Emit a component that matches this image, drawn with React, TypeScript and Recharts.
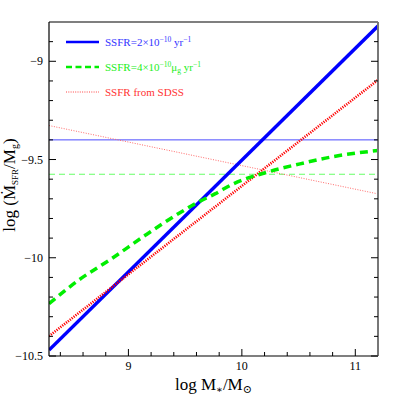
import { ComposedChart, Line, XAxis, YAxis, ReferenceLine } from 'recharts';

// log M*/Msun positions and log(SFR/Mg) values
const blueThick = [
  { x: 8.3, y: -10.47 },
  { x: 11.2, y: -8.82 },
];
const redThick = [
  { x: 8.3, y: -10.399 },
  { x: 11.2, y: -9.095 },
];
const redThin = [
  { x: 8.3, y: -9.327 },
  { x: 11.2, y: -9.675 },
];
const greenCurve = [
  { x: 8.3, y: -10.234 },
  { x: 8.556, y: -10.116 },
  { x: 8.851, y: -10.005 },
  { x: 9.145, y: -9.887 },
  { x: 9.439, y: -9.776 },
  { x: 9.615, y: -9.717 },
  { x: 9.762, y: -9.675 },
  { x: 9.924, y: -9.624 },
  { x: 10.219, y: -9.565 },
  { x: 10.513, y: -9.522 },
  { x: 10.807, y: -9.485 },
  { x: 11.2, y: -9.454 },
];
const blueLevel = -9.4;
const greenLevel = -9.575;

const xTicks = [8.4, 8.6, 8.8, 9, 9.2, 9.4, 9.6, 9.8, 10, 10.2, 10.4, 10.6, 10.8, 11];
const xMajor = [9, 10, 11];
const yTicks = [-10.5, -10.4, -10.3, -10.2, -10.1, -10, -9.9, -9.8, -9.7, -9.6, -9.5, -9.4, -9.3, -9.2, -9.1, -9, -8.9];
const yMajor = [-10.5, -10, -9.5, -9];

const FONT = '"Liberation Serif", "DejaVu Serif", serif';
const MAJOR = 7;
const MINOR = 4;

const isMajor = (list: number[], v: number) => list.some((m) => Math.abs(m - v) < 1e-6);
const fmtY = (v: number) => (v < 0 ? '\u2212' + String(-v) : String(v));

function BottomTick(props: any) {
  const { x, y, payload } = props;
  const major = isMajor(xMajor, payload.value);
  return (
    <g>
      <line x1={x} x2={x} y1={y} y2={y - (major ? MAJOR : MINOR)} stroke="#000" strokeWidth={1} />
      {major && (
        <text x={x} y={y + 14} textAnchor="middle" fontSize={12} fontFamily={FONT} fill="#000">
          {String(payload.value)}
        </text>
      )}
    </g>
  );
}

function TopTick(props: any) {
  const { x, y, payload } = props;
  const major = isMajor(xMajor, payload.value);
  return <line x1={x} x2={x} y1={y} y2={y + (major ? MAJOR : MINOR)} stroke="#000" strokeWidth={1} />;
}

function LeftTick(props: any) {
  const { x, y, payload } = props;
  const major = isMajor(yMajor, payload.value);
  return (
    <g>
      <line x1={x} x2={x + (major ? MAJOR : MINOR)} y1={y} y2={y} stroke="#000" strokeWidth={1} />
      {major && (
        <text x={x - 6} y={y + 4} textAnchor="end" fontSize={12} fontFamily={FONT} fill="#000">
          {fmtY(payload.value)}
        </text>
      )}
    </g>
  );
}

function RightTick(props: any) {
  const { x, y, payload } = props;
  const major = isMajor(yMajor, payload.value);
  return <line x1={x} x2={x - (major ? MAJOR : MINOR)} y1={y} y2={y} stroke="#000" strokeWidth={1} />;
}

const axisLine = { stroke: '#000', strokeWidth: 1.2 };

export default function App() {
  return (
    <div style={{ position: 'absolute', left: 0, top: 0, width: 399, height: 399, background: '#fff' }}>
      <ComposedChart width={399} height={399} margin={{ top: 0, right: 0, bottom: 0, left: 0 }}>
        <XAxis
          dataKey="x"
          type="number"
          domain={[8.3, 11.2]}
          allowDataOverflow
          ticks={xTicks}
          interval={0}
          height={43}
          tickSize={0}
          tickMargin={0}
          tickLine={false}
          axisLine={axisLine}
          tick={BottomTick}
        />
        <XAxis
          xAxisId="t"
          orientation="top"
          type="number"
          domain={[8.3, 11.2]}
          allowDataOverflow
          ticks={xTicks}
          interval={0}
          height={22}
          tickSize={0}
          tickMargin={0}
          tickLine={false}
          axisLine={axisLine}
          tick={TopTick}
        />
        <YAxis
          type="number"
          domain={[-10.5, -8.8]}
          allowDataOverflow
          ticks={yTicks}
          interval={0}
          width={49}
          tickSize={0}
          tickMargin={0}
          tickLine={false}
          axisLine={axisLine}
          tick={LeftTick}
        />
        <YAxis
          yAxisId="r"
          orientation="right"
          type="number"
          domain={[-10.5, -8.8]}
          allowDataOverflow
          ticks={yTicks}
          interval={0}
          width={21}
          tickSize={0}
          tickMargin={0}
          tickLine={false}
          axisLine={{ stroke: '#777', strokeWidth: 2 }}
          tick={RightTick}
        />
        <ReferenceLine y={blueLevel} stroke="#4b4bff" strokeWidth={1} />
        <ReferenceLine y={greenLevel} stroke="#66ff66" strokeWidth={1} strokeDasharray="6 4" />
        <Line
          data={redThin}
          dataKey="y"
          type="linear"
          stroke="#ff6a6a"
          strokeWidth={1}
          strokeDasharray="1 1.5"
          dot={false}
          isAnimationActive={false}
        />
        <Line
          data={blueThick}
          dataKey="y"
          type="linear"
          stroke="#0000ff"
          strokeWidth={3.5}
          dot={false}
          isAnimationActive={false}
        />
        <Line
          data={redThick}
          dataKey="y"
          type="linear"
          stroke="#ff0000"
          strokeWidth={2.6}
          strokeDasharray="1.2 1.2"
          dot={false}
          isAnimationActive={false}
        />
        <Line
          data={greenCurve}
          dataKey="y"
          type="monotone"
          stroke="#00ee00"
          strokeWidth={3.5}
          strokeDasharray="8 5"
          dot={false}
          isAnimationActive={false}
        />
      </ComposedChart>

      <svg
        width={399}
        height={399}
        style={{ position: 'absolute', left: 0, top: 0, pointerEvents: 'none' }}
        fontFamily={FONT}
      >
        {/* legend */}
        <line x1={66} x2={99} y1={42} y2={42} stroke="#0000ff" strokeWidth={2.5} />
        <text x={105} y={46} fontSize={11} fill="#3333ff">
          SSFR=2×10<tspan dy={-4} fontSize={7.5}>−10</tspan>
          <tspan dy={4}> yr</tspan>
          <tspan dy={-4} fontSize={7.5}>−1</tspan>
        </text>
        <line x1={66} x2={99} y1={67} y2={67} stroke="#00ee00" strokeWidth={2.5} strokeDasharray="6 3.5" />
        <text x={105} y={71} fontSize={11} fill="#22ee22">
          SSFR=4×10<tspan dy={-4} fontSize={7.5}>−10</tspan>
          <tspan dy={4}>μ</tspan>
          <tspan dy={2} fontSize={7.5}>g</tspan>
          <tspan dy={-2}> yr</tspan>
          <tspan dy={-4} fontSize={7.5}>−1</tspan>
        </text>
        <line x1={66} x2={99} y1={92} y2={92} stroke="#ff4444" strokeWidth={1} strokeDasharray="1 1.3" />
        <text x={105} y={96} fontSize={11} fill="#ff3333">
          SSFR from SDSS
        </text>

        {/* axis titles */}
        <text x={175} y={390} fontSize={17} fill="#000">
          log M<tspan dy={3} fontSize={10}>∗</tspan>
          <tspan dy={-3}>/M</tspan>
          <tspan dy={3} fontSize={11}>⊙</tspan>
        </text>
        <text transform="translate(15,185) rotate(-90)" textAnchor="middle" fontSize={17} fill="#000">
          log (Ṁ<tspan dy={3} fontSize={9}>SFR</tspan>
          <tspan dy={-3}>/M</tspan>
          <tspan dy={3} fontSize={10}>g</tspan>
          <tspan dy={-3}>)</tspan>
        </text>
      </svg>
    </div>
  );
}
